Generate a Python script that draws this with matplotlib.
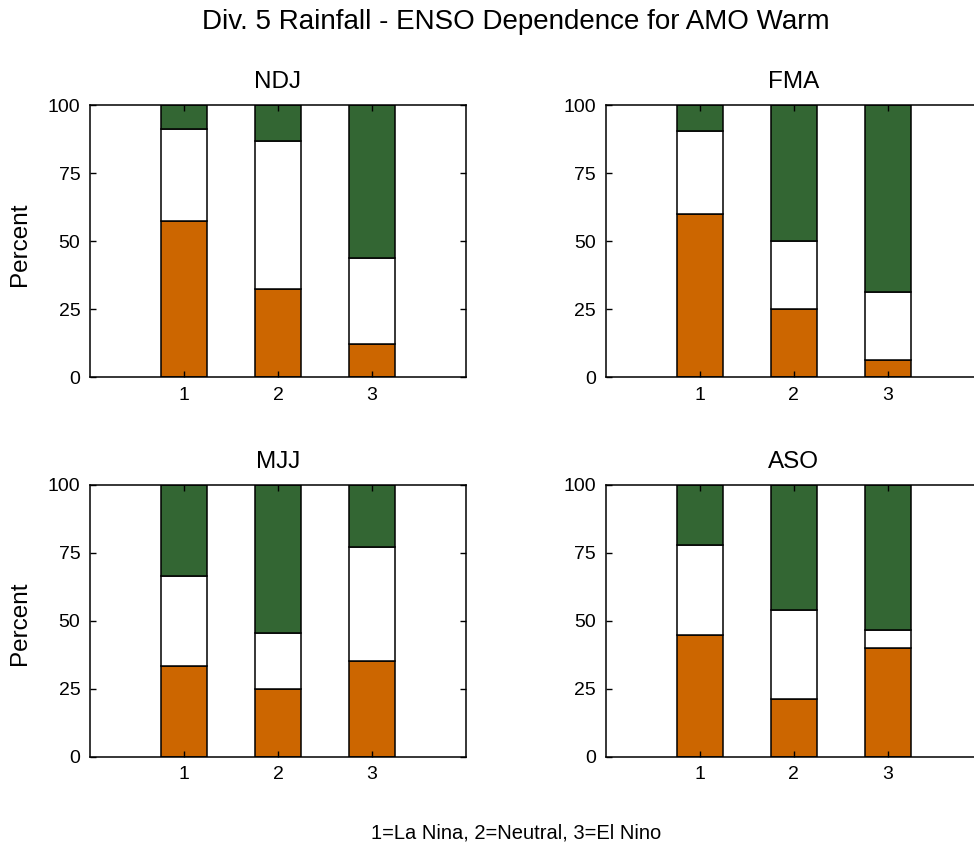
import matplotlib
matplotlib.use("Agg")
import matplotlib.pyplot as plt
import numpy as np

plt.rcParams['font.family'] = ['Liberation Sans', 'DejaVu Sans']

categories = [1, 2, 3]
seasons = ["NDJ", "FMA", "MJJ", "ASO"]
# percentages: below-normal (orange), near-normal (white)
below = {
    "NDJ": [57.3, 32.3, 12.3],
    "FMA": [60.1, 25.0, 6.4],
    "MJJ": [33.5, 25.0, 35.2],
    "ASO": [44.7, 21.1, 40.1],
}
near = {
    "NDJ": [33.7, 54.4, 31.6],
    "FMA": [30.3, 25.0, 25.0],
    "MJJ": [33.1, 20.4, 41.9],
    "ASO": [33.1, 33.0, 6.6],
}
above = {s: [100 - b - n for b, n in zip(below[s], near[s])] for s in seasons}
yticks = [0, 25, 50, 75, 100]

title = "Div. 5 Rainfall - ENSO Dependence for AMO Warm"
xlabel = "1=La Nina, 2=Neutral, 3=El Nino"

orange = "#CC6600"
green = "#336633"

W, H = 974, 848
fig = plt.figure(figsize=(W / 100, H / 100), dpi=100)

aw = 376 / W
ah = (377 - 105) / H
positions = {
    "NDJ": (90 / W, 1 - 377 / H),
    "FMA": (605.7 / W, 1 - 377 / H),
    "MJJ": (90 / W, 1 - 756.7 / H),
    "ASO": (605.7 / W, 1 - 756.7 / H),
}

for s in seasons:
    l, b = positions[s]
    ax = fig.add_axes([l, b, aw, ah])
    x = np.array(categories)
    bl = np.array(below[s])
    nr = np.array(near[s])
    ab = np.array(above[s])
    kw = dict(width=0.49, edgecolor="black", linewidth=1.1)
    ax.bar(x, bl, color=orange, **kw)
    ax.bar(x, nr, bottom=bl, color="white", **kw)
    ax.bar(x, ab, bottom=bl + nr, color=green, **kw)
    ax.set_xlim(0, 4)
    ax.set_ylim(0, 100)
    ax.set_xticks(categories)
    ax.set_yticks(yticks)
    ax.tick_params(direction="in", length=4, width=1, labelsize=14,
                   left=True, right=True, top=True, bottom=True, pad=7)
    for sp in ax.spines.values():
        sp.set_linewidth(1.1)
    ax.set_title(s, fontsize=17.5, pad=12)
    if s in ("NDJ", "MJJ"):
        yc = b + ah / 2 - 3 / H
        fig.text(20 / W, yc, "Percent", rotation=90, ha="center", va="center", fontsize=17.5)

fig.text(516 / W, 1 - 22 / H, title, ha="center", va="center", fontsize=20)
fig.text(516 / W, 1 - 833 / H, xlabel, ha="center", va="center", fontsize=14.5)

fig.savefig("out.png", dpi=100)
